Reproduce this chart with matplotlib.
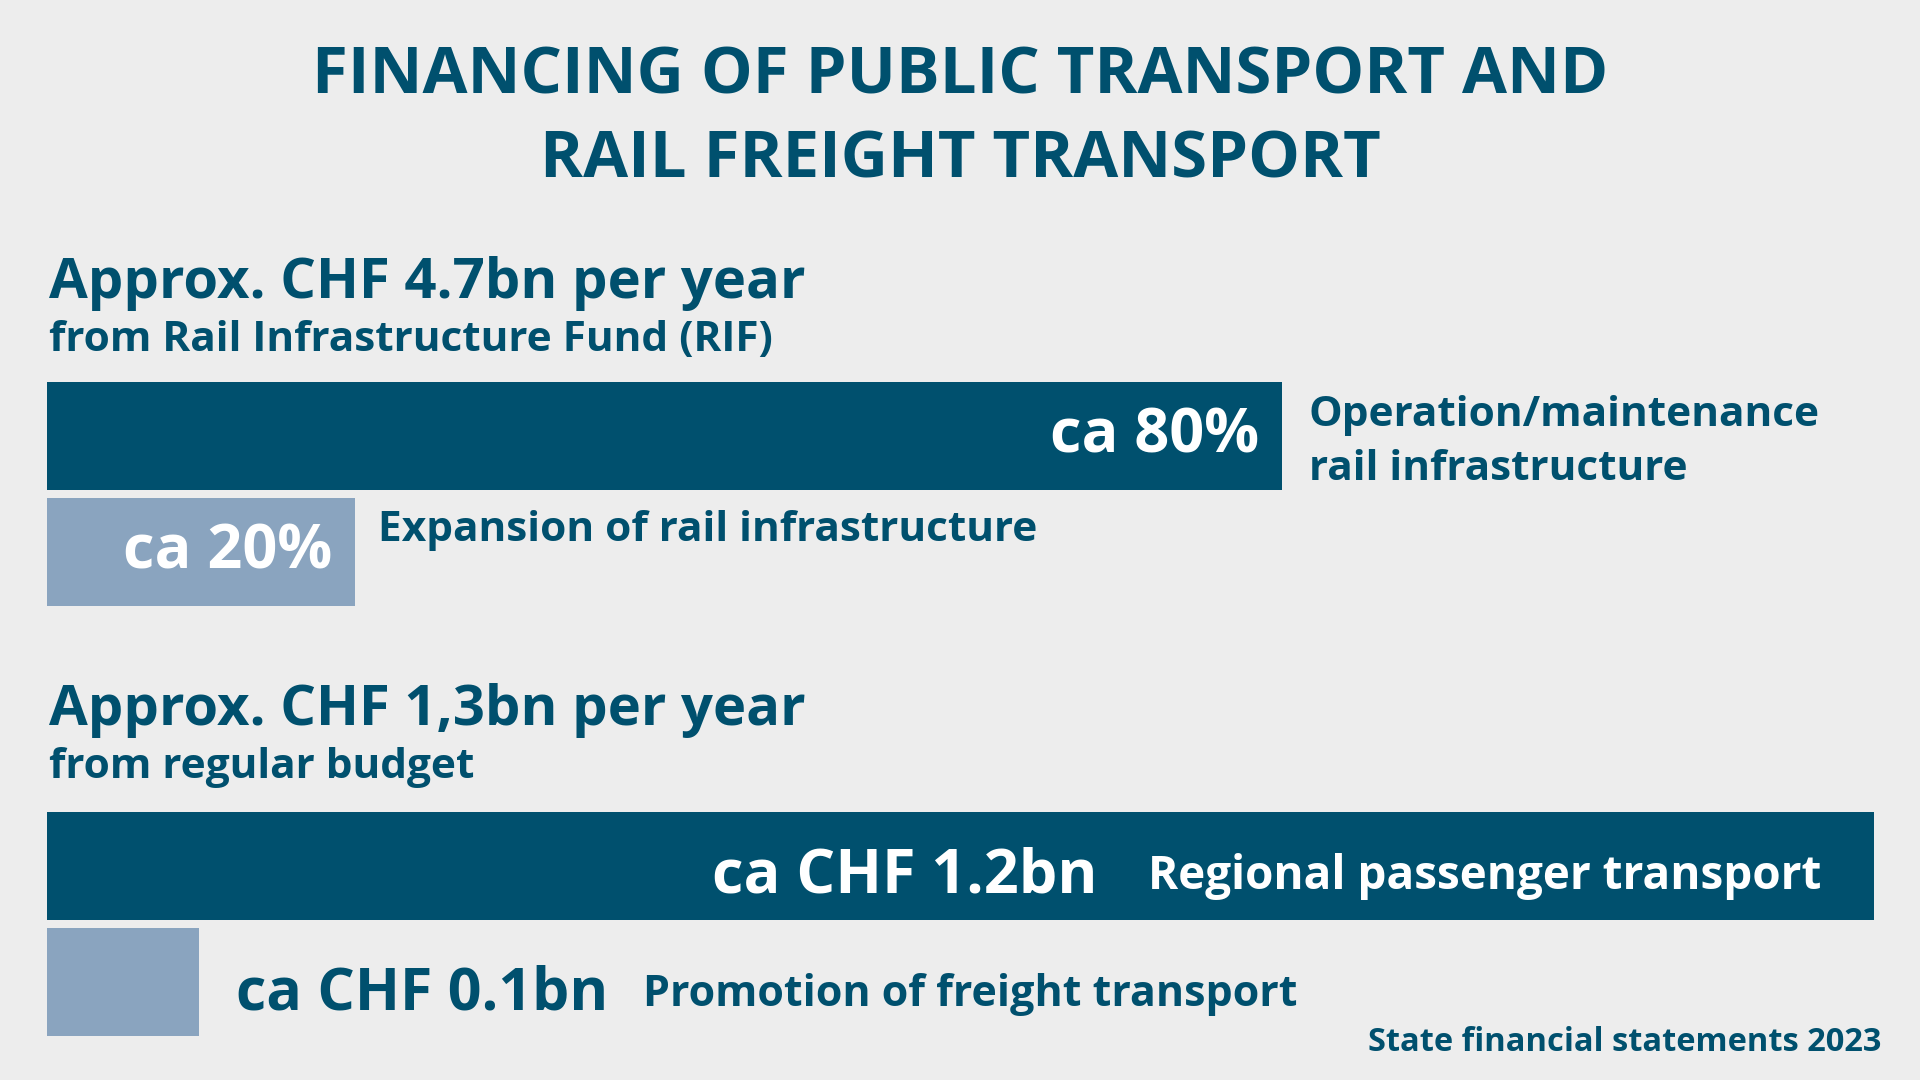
import matplotlib
matplotlib.use("Agg")
import matplotlib.pyplot as plt

# data
rif_labels = ["Operation/maintenance\nrail infrastructure", "Expansion of rail infrastructure"]
rif_share = [80, 20]
rif_text = ["ca 80%", "ca 20%"]

budget_labels = ["Regional passenger transport", "Promotion of freight transport"]
budget_bn = [1.2, 0.1]
budget_text = ["ca CHF 1.2bn", "ca CHF 0.1bn"]

title_lines = ["FINANCING OF PUBLIC TRANSPORT AND", "RAIL FREIGHT TRANSPORT"]
head1 = "Approx. CHF 4.7bn per year"
sub1 = "from Rail Infrastructure Fund (RIF)"
head2 = "Approx. CHF 1,3bn per year"
sub2 = "from regular budget"
source = "State financial statements 2023"

dark = "#00506e"
light = "#8aa4bf"
bg = "#ededed"

plt.rcParams["font.family"] = ["Open Sans", "DejaVu Sans"]
plt.rcParams["font.weight"] = "bold"

W, H = 1920, 1080
fig = plt.figure(figsize=(19.2, 10.8), dpi=100, facecolor=bg)


def ftext(x, y, s, **kw):
    # x, y in pixels from top-left
    kw.setdefault("color", dark)
    kw.setdefault("fontweight", "bold")
    return fig.text(x / W, 1 - y / H, s, **kw)


def make_ax(top):
    left, right = 46.5, 1874
    ax = fig.add_axes([left / W, 1 - (top + 224) / H, (right - left) / W, 224 / H])
    ax.axis("off")
    ax.set_ylim(1.465, -0.465)
    return ax


def lab(ax, x, y, s, dx, dy, **kw):
    kw.setdefault("color", dark)
    kw.setdefault("fontweight", "bold")
    kw.setdefault("va", "baseline")
    ax.annotate(s, xy=(x, y), xytext=(dx, dy), textcoords="offset points",
                annotation_clip=False, **kw)


# titles
ftext(960, 94, title_lines[0], ha="center", va="baseline", fontsize=47)
ftext(960, 178, title_lines[1], ha="center", va="baseline", fontsize=47)
ftext(49, 298, head1, ha="left", va="baseline", fontsize=40.5)
ftext(49, 351, sub1, ha="left", va="baseline", fontsize=30.5)
ftext(49, 725, head2, ha="left", va="baseline", fontsize=40.5)
ftext(49, 778, sub2, ha="left", va="baseline", fontsize=30.5)
ftext(1881, 1051, source, ha="right", va="baseline", fontsize=23.5)

# RIF bars
ax1 = make_ax(382)
ax1.barh([0, 1], rif_share, height=0.93, color=[dark, light])
ax1.set_xlim(0, 118.3)
lab(ax1, rif_share[0], 0, rif_text[0], -17, -12, ha="right", color="white", fontsize=44)
lab(ax1, rif_share[0], 0, rif_labels[0], 19, -4.5, ha="left", va="center",
    fontsize=30.5, linespacing=1.43)
lab(ax1, rif_share[1], 1, rif_text[1], -17, -12, ha="right", color="white", fontsize=44)
lab(ax1, rif_share[1], 1, rif_labels[1], 16.5, 8, ha="left", fontsize=30.5)

# budget bars
ax2 = make_ax(812)
ax2.barh([0, 1], budget_bn, height=0.93, color=[dark, light])
ax2.set_xlim(0, 1.2)
lab(ax2, budget_bn[0], 0, budget_text[0], -559, -19.4, ha="right", color="white", fontsize=44)
lab(ax2, budget_bn[0], 0, budget_labels[0], -38, -16.6, ha="right", color="white", fontsize=33)
lab(ax2, budget_bn[1], 1, budget_text[1], 27, -20, ha="left", fontsize=42.5)
lab(ax2, budget_bn[1], 1, budget_labels[1], 320, -17.6, ha="left", fontsize=31)

fig.savefig("out.png", dpi=100, facecolor=bg)
